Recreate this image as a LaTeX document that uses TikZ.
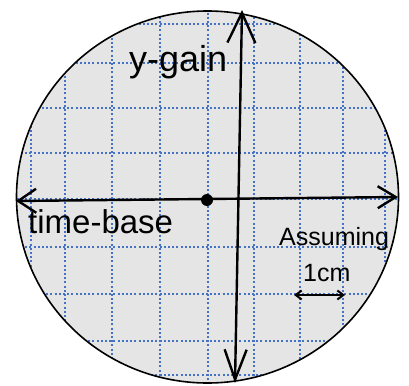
\documentclass[tikz,border=0pt]{standalone}
\usepackage{fontspec}
\setmainfont{Liberation Sans}
\usetikzlibrary{arrows.meta}

\definecolor{gridblue}{RGB}{68,114,196}

\tikzset{
   grid line/.style={gridblue, line width=2pt, dash pattern=on 2pt off 2.2pt},
   axis/.style={line width=2.4pt, line cap=round},
   label text/.style={inner sep=0pt, anchor=base west}
}

\begin{document}
\begin{tikzpicture}[x=1pt, y=-1pt]
   \useasboundingbox (0,0) rectangle (409,385);

   % screen
   \fill[gray!20] (207.5,197) ellipse [x radius=191pt, y radius=186pt];
   \begin{scope}
      \clip (207.5,197) ellipse [x radius=191pt, y radius=186pt];
      \foreach \gx in {31,65,112,160,208,254,300,343,385}
         \draw[grid line] (\gx,0) -- (\gx,385);
      \foreach \gy in {24,63,108,153,199,247,294,341,375}
         \draw[grid line] (0,\gy) -- (409,\gy);
   \end{scope}
   \draw[line width=1.6pt] (207.5,197) ellipse [x radius=191pt, y radius=186pt];

   % axes
   \coordinate (hleft) at (16,201);
   \coordinate (hright) at (398,197);
   \coordinate (vtop) at (242,10);
   \coordinate (vbot) at (235,383);
   \draw[axis, {Straight Barb[length=18pt,width=24pt]}-{Straight Barb[length=18pt,width=22pt]}] (hleft) -- (hright);
   \draw[axis, {Straight Barb[length=30pt,width=28pt]}-{Straight Barb[length=30pt,width=22pt]}] (vtop) -- (vbot);

   \node[circle, fill, inner sep=0pt, minimum size=12pt] (spot) at (207,200) {};

   % labels
   \node[label text, font=\fontsize{36}{40}\selectfont] (ygain) at (129,72) {y-gain};
   \node[label text, font=\fontsize{33}{38}\selectfont] (tbase) at (28,233) {time-base};
   \node[label text, font=\fontsize{25}{30}\selectfont] (assume) at (279,245) {Assuming};
   \node[label text, font=\fontsize{25}{30}\selectfont] (onecm) at (303,281) {1cm};

   \coordinate (cmleft) at (294,295);
   \coordinate (cmright) at (345,295);
   \draw[line width=2pt, {Straight Barb[length=6pt,width=9pt]}-{Straight Barb[length=6pt,width=9pt]}] (cmleft) -- (cmright);
\end{tikzpicture}
\end{document}
